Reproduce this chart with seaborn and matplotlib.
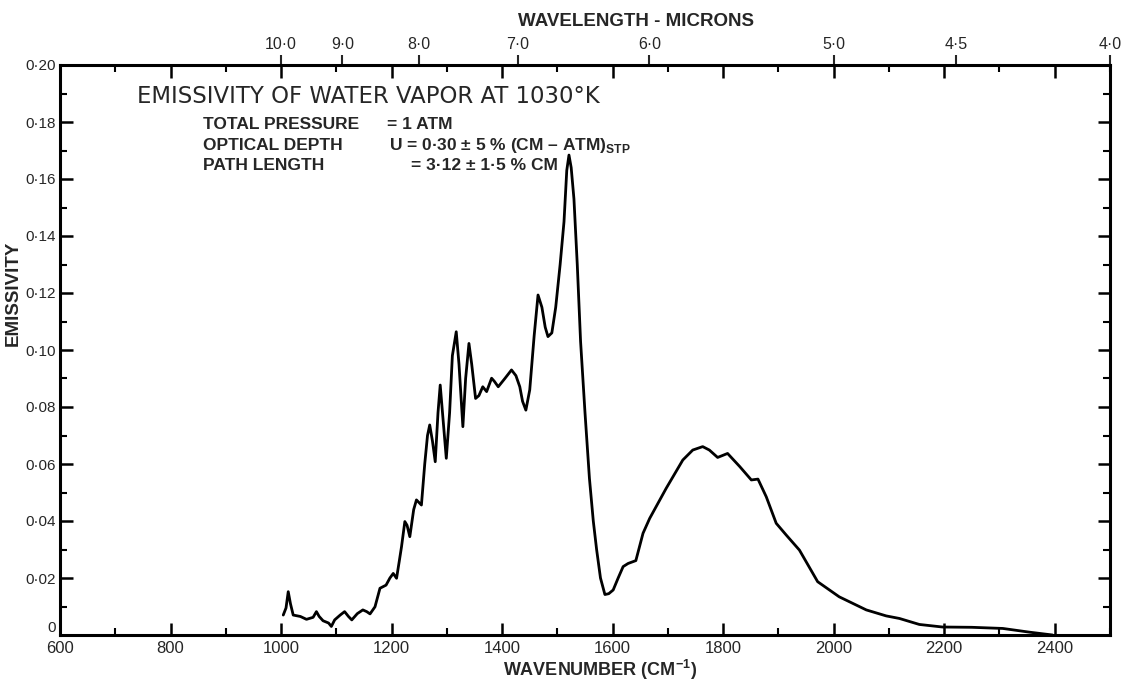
import numpy as np
import pandas as pd
import matplotlib
matplotlib.use("Agg")
import matplotlib.pyplot as plt
from matplotlib.ticker import MultipleLocator, FixedLocator
import seaborn as sns

# ---- data ----
wavenumber = [1004, 1009, 1013, 1017, 1022, 1035, 1046, 1058, 1064, 1069, 1076, 1086, 1091,
              1097, 1107, 1115, 1122, 1128, 1138, 1148, 1155, 1161, 1170, 1179, 1190, 1197,
              1203, 1209, 1214, 1218, 1224, 1228, 1233, 1240, 1245, 1254, 1260, 1265, 1269,
              1274, 1279, 1284, 1288, 1293, 1299, 1305, 1310, 1317, 1322, 1329, 1334, 1340,
              1345, 1352, 1358, 1365, 1372, 1381, 1386, 1393, 1405, 1417, 1425, 1432, 1437,
              1443, 1450, 1458, 1465, 1472, 1478, 1483, 1490, 1497, 1505, 1512, 1517, 1521,
              1525, 1530, 1536, 1542, 1550, 1558, 1565, 1571, 1578, 1586, 1593, 1601, 1610,
              1619, 1628, 1642, 1655, 1667, 1697, 1727, 1745, 1763, 1775, 1790, 1808, 1830,
              1851, 1863, 1878, 1896, 1914, 1938, 1971, 2010, 2059, 2095, 2119, 2155, 2197,
              2250, 2306, 2354, 2396]
emissivity = [0.0070, 0.0095, 0.0152, 0.0110, 0.0070, 0.0065, 0.0055, 0.0062, 0.0082, 0.0065,
              0.0050, 0.0042, 0.0030, 0.0053, 0.0070, 0.0082, 0.0065, 0.0053, 0.0075, 0.0088,
              0.0082, 0.0074, 0.0099, 0.0164, 0.0175, 0.0200, 0.0216, 0.0199, 0.0260, 0.0310,
              0.0398, 0.0385, 0.0345, 0.0440, 0.0474, 0.0456, 0.0600, 0.0700, 0.0737, 0.0680,
              0.0608, 0.0780, 0.0877, 0.0760, 0.0620, 0.0780, 0.0980, 0.1064, 0.0950, 0.0731,
              0.0900, 0.1023, 0.0950, 0.0830, 0.0840, 0.0871, 0.0854, 0.0901, 0.0890, 0.0871,
              0.0900, 0.0930, 0.0910, 0.0871, 0.0820, 0.0789, 0.0860, 0.1050, 0.1193, 0.1150,
              0.1080, 0.1047, 0.1060, 0.1150, 0.1300, 0.1450, 0.1630, 0.1684, 0.1640, 0.1530,
              0.1300, 0.1030, 0.0780, 0.0550, 0.0400, 0.0300, 0.0200, 0.0142, 0.0145, 0.0158,
              0.0200, 0.0240, 0.0251, 0.0261, 0.0357, 0.0409, 0.0515, 0.0614, 0.0649, 0.0661,
              0.0649, 0.0623, 0.0637, 0.0591, 0.0544, 0.0547, 0.0485, 0.0392, 0.0351, 0.0298,
              0.0187, 0.0134, 0.0088, 0.0067, 0.0058, 0.0037, 0.0028, 0.0027, 0.0023, 0.0010,
              0.0000]

x_ticks = [600, 800, 1000, 1200, 1400, 1600, 1800, 2000, 2200, 2400]
y_ticks = [0, 0.02, 0.04, 0.06, 0.08, 0.10, 0.12, 0.14, 0.16, 0.18, 0.20]
y_tick_labels = ["0", "0·02", "0·04", "0·06", "0·08", "0·10", "0·12", "0·14", "0·16", "0·18", "0·20"]
micron_ticks = [10.0, 9.0, 8.0, 7.0, 6.0, 5.0, 4.5, 4.0]
micron_labels = ["10·0", "9·0", "8·0", "7·0", "6·0", "5·0", "4·5", "4·0"]

title_text = "EMISSIVITY OF WATER VAPOR AT 1030°K"
info_left = ["TOTAL PRESSURE", "OPTICAL DEPTH", "PATH LENGTH"]
info_right = ["= 1 ATM", r"U = 0·30 ± 5 % (CM – ATM)$_{\mathbf{STP}}$", "= 3·12 ± 1·5 % CM"]

df = pd.DataFrame({"wavenumber": wavenumber, "emissivity": emissivity})

sns.set_theme(style="ticks")
plt.rcParams["font.family"] = ["Liberation Sans", "DejaVu Sans"]
plt.rcParams["mathtext.fontset"] = "custom"
plt.rcParams["mathtext.rm"] = "Liberation Sans"
plt.rcParams["mathtext.bf"] = "Liberation Sans:bold"

fig = plt.figure(figsize=(11.23, 6.90), dpi=100, facecolor="white")
ax = fig.add_axes([60 / 1123, 1 - 635 / 690, 1050 / 1123, 570 / 690])
ax.set_facecolor("white")

sns.lineplot(data=df, x="wavenumber", y="emissivity", color="black", lw=2.0,
             estimator=None, sort=False, ax=ax)

ax.set_xlim(600, 2500)
ax.set_ylim(0, 0.20)

for s in ax.spines.values():
    s.set_linewidth(2.2)
    s.set_color("black")

ax.xaxis.set_major_locator(FixedLocator(x_ticks))
ax.xaxis.set_minor_locator(MultipleLocator(100))
ax.yaxis.set_major_locator(FixedLocator(y_ticks))
ax.yaxis.set_minor_locator(MultipleLocator(0.01))
ax.set_yticklabels(y_tick_labels)
ax.set_xticklabels([str(v) for v in x_ticks])

ax.tick_params(which="both", direction="in", top=True, right=True, color="black")
ax.tick_params(which="major", length=9, width=1.8)
ax.tick_params(which="minor", length=5, width=1.5)
ax.tick_params(axis="x", which="major", labelsize=12, pad=4)
ax.tick_params(axis="y", which="major", labelsize=11, pad=3)
ax.yaxis.get_major_ticks()[0].label1.set_verticalalignment("bottom")

ax.set_xlabel("")
ax.set_ylabel("EMISSIVITY", fontsize=13.5, fontweight="bold", labelpad=2)
ax.yaxis.set_label_coords(-0.036, 0.60)
fig.text(503 / 1123, 1 - 670 / 690, "WAVENUMBER (CM$^{\\mathbf{-1}}$)", fontsize=13,
         fontweight="bold", ha="left", va="center")


def wn_to_um(x):
    x = np.asarray(x, dtype=float)
    with np.errstate(divide="ignore", invalid="ignore"):
        return 1e4 / x


sec = ax.secondary_xaxis("top", functions=(wn_to_um, wn_to_um))
sec.set_xticks(micron_ticks)
sec.set_xticklabels(micron_labels)
sec.xaxis.set_minor_locator(FixedLocator([]))
sec.tick_params(direction="out", length=7, width=1.5, labelsize=11.5, pad=2)
sec.spines["top"].set_visible(False)
sec.set_xlabel("")
fig.text(636 / 1123, 1 - 22 / 690, "WAVELENGTH - MICRONS", fontsize=13.5,
         fontweight="bold", ha="center", va="center")

ax.text(740, 0.189, title_text, fontsize=16.4, va="center", ha="left",
        family=["DejaVu Sans"])
info_y = [0.179, 0.1716, 0.1646]
info_x_right = [1191, 1195, 1235]
for yv, lt, rt, xr in zip(info_y, info_left, info_right, info_x_right):
    ax.text(859, yv, lt, fontsize=12.5, fontweight="bold", va="center", ha="left")
    ax.text(xr, yv, rt, fontsize=12.5, fontweight="bold", va="center", ha="left")

fig.savefig("out.png", dpi=100, facecolor="white")
